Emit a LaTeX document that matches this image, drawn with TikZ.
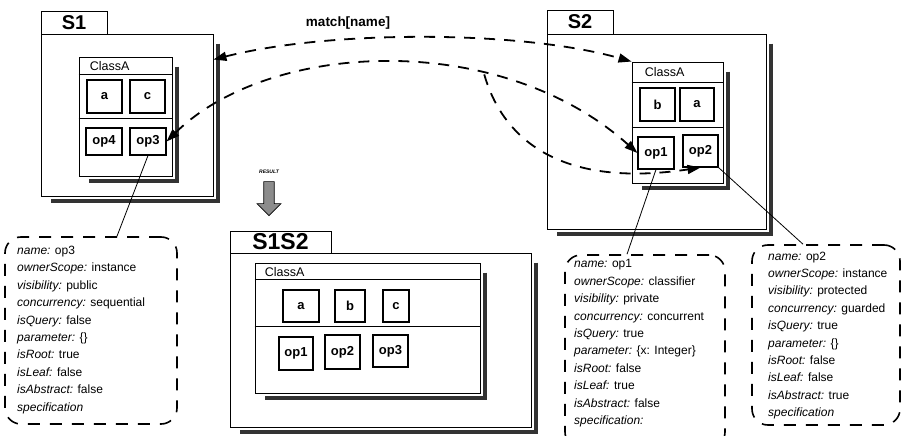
\documentclass[tikz,border=0pt]{standalone}
\usepackage{fontspec}
\setmainfont{Liberation Sans}
\usetikzlibrary{arrows.meta,calc,fit,shapes.arrows}
\newcommand\mydropshadow[2]{%
  \draw[shadowline] ([shift={(#2,-2*#2)}]#1.north east) -- ([shift={(#2,-#2)}]#1.south east) -- ([shift={(2*#2,-#2)}]#1.south west);}
\newcommand\kvline[2]{\textit{#1} #2}
\begin{document}
\begin{tikzpicture}[x=1pt,y=-1pt,
  box/.style={draw, fill=white, line width=0.9pt, inner sep=0pt},
  tabbox/.style={box},
  tabtext/.style={inner sep=0pt, font=\fontsize{20}{20}\selectfont\bfseries},
  itembox/.style={box, line width=1.1pt},
  itemtext/.style={inner sep=0pt, font=\fontsize{13}{13}\selectfont\bfseries},
  clslabel/.style={anchor=west, inner sep=0pt, font=\fontsize{12.5}{12.5}\selectfont},
  shadowline/.style={line width=4pt, black!80},
  note/.style={draw, line width=1.6pt, dash pattern=on 12pt off 10pt, rounded corners=16pt, inner sep=0pt},
  notetext/.style={anchor=north west, align=left, inner sep=0pt, font=\fontsize{12}{17.4}\selectfont},
  matcharrow/.style={line width=1.8pt, dash pattern=on 11pt off 9pt},
  tipboth/.style={{Triangle[length=13pt,width=9pt]}-{Triangle[length=13pt,width=9pt]}},
  tipend/.style={-{Triangle[length=13pt,width=9pt]}},
  link/.style={line width=0.8pt},
]
\useasboundingbox[fill=white] (0,0) rectangle (906,436);

% ---------------- S1 ----------------
\node[fit={(41,34) (213,196)}, box] (s1) {};
\mydropshadow{s1}{5pt}
\node[fit={(41,34) (213,196)}, box] (s1) {};
\node[fit={(41,11) (107,34)}, tabbox, label={[tabtext]center:S1}] (s1tab) {};
\node[fit={(79,57) (172,176)}, box] (c1) {};
\mydropshadow{c1}{5pt}
\node[fit={(79,57) (172,176)}, box] (c1) {};
\draw[line width=0.9pt] ([yshift=-18pt]c1.north west) -- ([yshift=-18pt]c1.north east);
\draw[line width=0.9pt] ([yshift=-62pt]c1.north west) -- ([yshift=-62pt]c1.north east);
\node[clslabel] (c1l) at ($(c1.north west)+(11,9)$) {ClassA};
\node[fit={(87,80) (122,113)}, itembox, label={[itemtext]center:a}] (s1a) {};
\node[fit={(130,80) (165,113)}, itembox, label={[itemtext]center:c}] (s1c) {};
\node[fit={(86,128) (122,155)}, itembox, label={[itemtext]center:op4}] (s1op4) {};
\node[fit={(130,128) (166,155)}, itembox, label={[itemtext]center:op3}] (s1op3) {};

% ---------------- S2 ----------------
\node[fit={(547,34) (766,229)}, box] (s2) {};
\mydropshadow{s2}{5pt}
\node[fit={(547,34) (766,229)}, box] (s2) {};
\node[fit={(547,10) (613,34)}, tabbox, label={[tabtext]center:S2}] (s2tab) {};
\node[fit={(632,62) (723,183)}, box] (c2) {};
\mydropshadow{c2}{5pt}
\node[fit={(632,62) (723,183)}, box] (c2) {};
\draw[line width=0.9pt] ([yshift=-21pt]c2.north west) -- ([yshift=-21pt]c2.north east);
\draw[line width=0.9pt] ([yshift=-66pt]c2.north west) -- ([yshift=-66pt]c2.north east);
\node[clslabel] (c2l) at ($(c2.north west)+(13,10)$) {ClassA};
\node[fit={(640,88) (675,121)}, itembox, label={[itemtext]center:b}] (s2b) {};
\node[fit={(680,88) (714,121)}, itembox, label={[itemtext]center:a}] (s2a) {};
\node[fit={(638,137) (674,169)}, itembox, label={[itemtext]center:op1}] (s2op1) {};
\node[fit={(683,135) (718,167)}, itembox, label={[itemtext]center:op2}] (s2op2) {};

% ---------------- S1S2 ----------------
\node[fit={(230,253) (531,427)}, box] (r) {};
\mydropshadow{r}{5pt}
\node[fit={(230,253) (531,427)}, box] (r) {};
\node[fit={(230,231) (331,253)}, tabbox, label={[tabtext, font=\fontsize{23}{23}\selectfont\bfseries]center:S1S2}] (rtab) {};
\node[fit={(255,263) (480,393)}, box] (c3) {};
\mydropshadow{c3}{5pt}
\node[fit={(255,263) (480,393)}, box] (c3) {};
\draw[line width=0.9pt] ([yshift=-17pt]c3.north west) -- ([yshift=-17pt]c3.north east);
\draw[line width=0.9pt] ([yshift=-64pt]c3.north west) -- ([yshift=-64pt]c3.north east);
\node[clslabel] (c3l) at ($(c3.north west)+(10,9)$) {ClassA};
\node[fit={(283,290) (319,322)}, itembox, label={[itemtext]center:a}] (ra) {};
\node[fit={(335,290) (365,322)}, itembox, label={[itemtext]center:b}] (rb) {};
\node[fit={(383,290) (409,322)}, itembox, label={[itemtext]center:c}] (rc) {};
\node[fit={(279,337) (313,370)}, itembox, label={[itemtext]center:op1}] (rop1) {};
\node[fit={(325,335) (360,369)}, itembox, label={[itemtext]center:op2}] (rop2) {};
\node[fit={(373,335) (408,367)}, itembox, label={[itemtext]center:op3}] (rop3) {};

% ---------------- RESULT arrow ----------------
\node[font=\fontsize{5}{5}\selectfont\bfseries\itshape, inner sep=0pt] (restext) at (269,172) {RESULT};
\node[single arrow, draw, line width=0.6pt, fill=black!45, rotate=-90,
      minimum height=34pt, minimum width=24pt, single arrow head extend=3pt,
      inner sep=2pt] (res) at (269,196) {};

% ---------------- notes ----------------
\node[fit={(5,237) (177,424)}, note] (n3) {};
\node[notetext] (t3) at (17,246) {%
\kvline{name:}{op3}\\
\kvline{ownerScope:}{instance}\\
\kvline{visibility:}{public}\\
\kvline{concurrency:}{sequential}\\
\kvline{isQuery:}{false}\\
\kvline{parameter:}{\{\}}\\
\kvline{isRoot:}{true}\\
\kvline{isLeaf:}{false}\\
\kvline{isAbstract:}{false}\\
\kvline{specification}{}};

\node[fit={(565,255) (725,448)}, note] (n1) {};
\node[notetext] (t1) at (574,259.5) {%
\kvline{name:}{op1}\\
\kvline{ownerScope:}{classifier}\\
\kvline{visibility:}{private}\\
\kvline{concurrency:}{concurrent}\\
\kvline{isQuery:}{true}\\
\kvline{parameter:}{\{x: Integer\}}\\
\kvline{isRoot:}{false}\\
\kvline{isLeaf:}{true}\\
\kvline{isAbstract:}{false}\\
\kvline{specification:}{}};

\node[fit={(752,245) (900,425)}, note] (n2) {};
\node[notetext] (t2) at (768,251.5) {%
\kvline{name:}{op2}\\
\kvline{ownerScope:}{instance}\\
\kvline{visibility:}{protected}\\
\kvline{concurrency:}{guarded}\\
\kvline{isQuery:}{true}\\
\kvline{parameter:}{\{\}}\\
\kvline{isRoot:}{false}\\
\kvline{isLeaf:}{false}\\
\kvline{isAbstract:}{true}\\
\kvline{specification}{}};

% ---------------- links to notes ----------------
\draw[link] (s1op3.south) -- ([xshift=26pt]n3.north);
\draw[link] (s2op1.south) -- ([xshift=-18pt]n1.north);
\draw[link] (s2op2.south east) -- ([xshift=-23pt]n2.north);

% ---------------- match arrows ----------------
\node[font=\fontsize{13.5}{13.5}\selectfont\bfseries, inner sep=0pt] (mlabel) at (348,23) {match[name]};
\draw[matcharrow, tipboth] ([yshift=-26pt]s1.north east) .. controls (330,30) and (520,30) .. (c2.north west);
\draw[matcharrow, tipboth] (s1op3.east) .. controls (270,40) and (500,30) .. (s2op1.west) coordinate[pos=0.68] (split);
\draw[matcharrow, tipend] (split) .. controls (500,130) and (550,190) .. (s2op2.south);
\end{tikzpicture}
\end{document}
